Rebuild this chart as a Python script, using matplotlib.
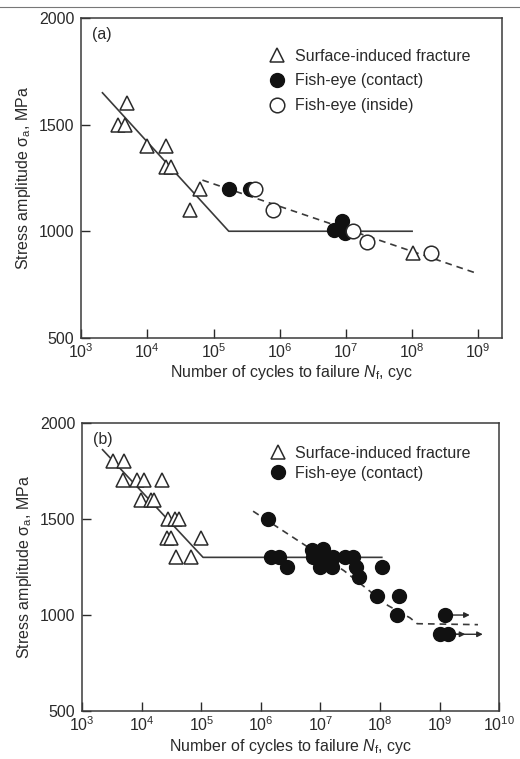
import matplotlib
matplotlib.use("Agg")
import matplotlib.pyplot as plt
from matplotlib.lines import Line2D

plt.rcParams['font.family'] = ['Liberation Sans', 'DejaVu Sans']
plt.rcParams['mathtext.fontset'] = 'custom'
plt.rcParams['mathtext.rm'] = 'Liberation Sans'
plt.rcParams['mathtext.it'] = 'Liberation Sans:italic'
plt.rcParams['mathtext.sf'] = 'Liberation Sans'

# ---- panel (a) data ----
tri_a_N = [5.0e3, 3.6e3, 4.6e3, 1.0e4, 1.9e4, 1.9e4, 2.3e4, 6.2e4, 4.4e4, 1.05e8]
tri_a_s = [1600, 1500, 1500, 1400, 1400, 1300, 1300, 1200, 1100, 900]
fill_a_N = [1.7e5, 3.5e5, 6.6e6, 8.7e6, 9.8e6]
fill_a_s = [1200, 1200, 1005, 1050, 990]
open_a_N = [4.2e5, 8.0e5, 1.3e7, 2.1e7, 1.9e8]
open_a_s = [1200, 1100, 1000, 950, 900]
solid_a_N = [2.1e3, 1.7e5, 1.0e8]
solid_a_s = [1650, 1000, 1000]
dash_a_N = [6.8e4, 1.0e9]
dash_a_s = [1240, 800]

# ---- panel (b) data ----
tri_b_N = [3.3e3, 5.0e3, 4.9e3, 8.3e3, 1.1e4, 2.2e4, 9.8e3, 1.45e4, 1.6e4,
           2.75e4, 3.6e4, 4.3e4, 2.7e4, 3.1e4, 1.0e5, 3.8e4, 6.8e4]
tri_b_s = [1800, 1800, 1700, 1700, 1700, 1700, 1600, 1600, 1600,
           1500, 1500, 1500, 1400, 1400, 1400, 1300, 1300]
fill_b_N = [1.3e6, 1.5e6, 2.0e6, 2.75e6, 7.2e6, 1.1e7, 7.6e6, 1.07e7, 1.3e7,
            9.8e6, 1.6e7, 1.55e7, 2.6e7, 3.5e7, 4.0e7, 4.5e7, 1.07e8,
            9.0e7, 2.1e8, 1.95e8]
fill_b_s = [1500, 1300, 1300, 1250, 1340, 1345, 1300, 1310, 1275,
            1250, 1300, 1250, 1300, 1300, 1250, 1200, 1250,
            1100, 1100, 1000]
runout_N = [1.25e9, 1.0e9, 1.4e9]
runout_s = [1000, 900, 900]
runout_end = [3.2e9, 2.7e9, 5.3e9]
solid_b_N = [2.2e3, 1.07e5, 1.07e8]
solid_b_s = [1860, 1300, 1300]
dash_b_N = [7.4e5, 2.5e7, 1.35e8, 3.2e8, 4.2e8, 4.4e9]
dash_b_s = [1540, 1230, 1050, 985, 955, 950]

xlabel = r"Number of cycles to failure $\mathit{N}_\mathrm{f}$, cyc"
ylabel = r"Stress amplitude σ$_\mathrm{a}$, MPa"

ink = '#2a2a2a'
line_c = '#3a3a3a'

fig = plt.figure(figsize=(5.2, 7.59), dpi=100)


def style(ax, xmax, xright):
    ax.set_xscale('log')
    ax.set_xlim(1e3, 10.0 ** xright)
    ax.set_ylim(500, 2000)
    ax.set_xticks([10.0 ** k for k in range(3, xmax + 1)])
    ax.set_xticklabels([r'$10^{%d}$' % k for k in range(3, xmax + 1)])
    ax.xaxis.set_minor_locator(matplotlib.ticker.NullLocator())
    ax.set_yticks([500, 1000, 1500, 2000])
    ax.tick_params(direction='in', length=6.5, width=1.0, colors=ink,
                   labelsize=11.5)
    ax.tick_params(axis='x', pad=3)
    ax.tick_params(axis='y', pad=5)
    for sp in ax.spines.values():
        sp.set_color(line_c)
        sp.set_linewidth(1.1)
    ax.set_xlabel(xlabel, fontsize=11.5, color=ink, labelpad=2)
    ax.set_ylabel(ylabel, fontsize=11.5, color=ink, labelpad=4)


tri_kw = dict(marker='^', ms=10.5, mfc='white', mec=ink, mew=1.1, ls='none')
fill_kw = dict(marker='o', ms=10, mfc='#111111', mec='#111111', mew=1.0, ls='none')
open_kw = dict(marker='o', ms=10.5, mfc='white', mec=ink, mew=1.1, ls='none')

# ---------------- (a) ----------------
ax1 = fig.add_axes([0.156, 0.555, 0.81, 0.421])
style(ax1, 9, 9.363)
ax1.plot(solid_a_N, solid_a_s, '-', color=line_c, lw=1.2, zorder=1)
ax1.plot(dash_a_N, dash_a_s, '--', color=line_c, lw=1.2, dashes=(4, 3), zorder=1)
h1, = ax1.plot(tri_a_N, tri_a_s, **tri_kw, zorder=3)
h2, = ax1.plot(fill_a_N, fill_a_s, **fill_kw, zorder=3)
h3, = ax1.plot(open_a_N, open_a_s, **open_kw, zorder=4)
ax1.text(0.027, 0.95, '(a)', transform=ax1.transAxes, fontsize=11.5,
         color=ink, va='center')
ax1.legend([h1, h2, h3],
           ['Surface-induced fracture', 'Fish-eye (contact)', 'Fish-eye (inside)'],
           loc='upper left', bbox_to_anchor=(0.42, 0.94), frameon=False,
           fontsize=11.5, handlelength=1.0, handletextpad=0.6, labelspacing=0.62,
           borderpad=0.2, labelcolor=ink)

# ---------------- (b) ----------------
ax2 = fig.add_axes([0.158, 0.063, 0.802, 0.380])
style(ax2, 10, 10)
ax2.plot(solid_b_N, solid_b_s, '-', color=line_c, lw=1.2, zorder=1)
ax2.plot(dash_b_N, dash_b_s, '--', color=line_c, lw=1.2, dashes=(4, 3), zorder=1)
g1, = ax2.plot(tri_b_N, tri_b_s, **tri_kw, zorder=3)
g2, = ax2.plot(fill_b_N, fill_b_s, **fill_kw, zorder=3)
ax2.plot(runout_N, runout_s, **fill_kw, zorder=3)
for n0, s0, n1 in zip(runout_N, runout_s, runout_end):
    ax2.annotate('', xy=(n1, s0), xytext=(n0 * 1.25, s0),
                 arrowprops=dict(arrowstyle='-|>', color=ink, lw=1.0,
                                 mutation_scale=8, shrinkA=0, shrinkB=0),
                 zorder=2)
ax2.text(0.027, 0.941, '(b)', transform=ax2.transAxes, fontsize=11.5,
         color=ink, va='center')
ax2.legend([g1, g2], ['Surface-induced fracture', 'Fish-eye (contact)'],
           loc='upper left', bbox_to_anchor=(0.423, 0.958), frameon=False,
           fontsize=11.5, handlelength=1.0, handletextpad=0.6, labelspacing=0.3,
           borderpad=0.2, labelcolor=ink)

# faint scan line at the very top of the page
fig.add_artist(Line2D([0.0, 1.0], [0.991, 0.991], transform=fig.transFigure,
                      color='#777777', lw=0.8))

fig.savefig('out.png', dpi=100)
